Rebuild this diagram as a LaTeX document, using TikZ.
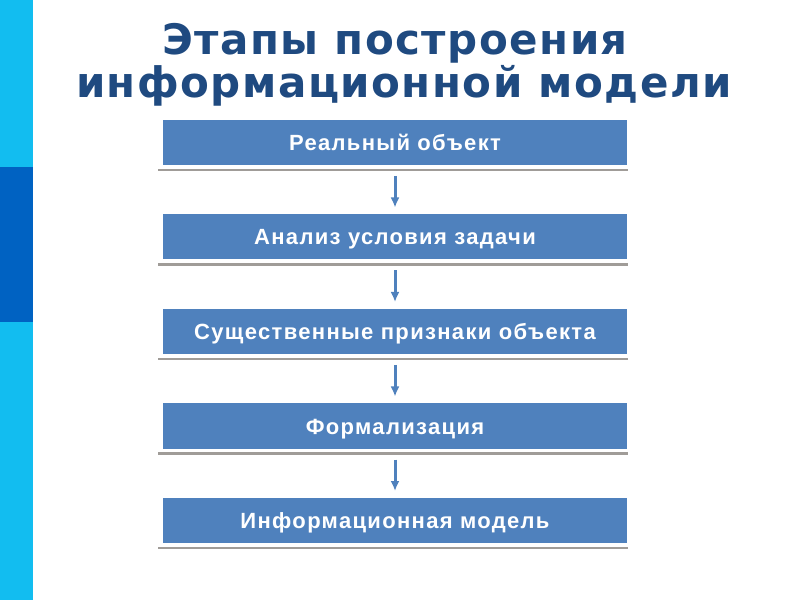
\documentclass[tikz,border=0pt]{standalone}
\usepackage{fontspec}
\setmainfont{Liberation Sans}[LetterSpace=6]
\newfontfamily\titlefont{DejaVu Sans}[LetterSpace=3.5]
\usetikzlibrary{positioning, arrows.meta}

\definecolor{barcyan}{HTML}{12BDF0}
\definecolor{bardark}{HTML}{0062C2}
\definecolor{titleblue}{HTML}{1F4A80}
\definecolor{boxblue}{HTML}{4F81BD}
\definecolor{shadowgray}{HTML}{A09C98}

\tikzset{
  stage/.style={fill=boxblue, draw=white, line width=1pt, minimum width=465pt, minimum height=46pt,
    inner sep=0pt, text height=16pt, text depth=0pt, text=white, font=\bfseries\fontsize{22}{22}\selectfont},
  heading/.style={text=titleblue, font=\titlefont\bfseries\fontsize{42}{42}\selectfont, anchor=base},
  shade/.style={draw=shadowgray, line width=2.5pt},
  flow/.style={draw=boxblue, line width=3pt, -{Latex[length=10pt,width=9pt]}, shorten <=10pt, shorten >=6pt}
}

\begin{document}
\begin{tikzpicture}[x=1pt, y=1pt, node distance=47.5pt]
	\useasboundingbox (0,0) rectangle (800,600);
	% side bar
	\fill[barcyan] (0,0) rectangle (33,600);
	\fill[bardark] (0,278) rectangle (33,433);

	% title
	\node [heading] (head1) at (395,545) {Этапы построения};
	\node [heading] (head2) at (404,502) {информационной модели};

	% stages
	\node [stage] (real)   at (395,457.5)           {Реальный объект};
	\node [stage] (anal)   [below=of real]          {Анализ условия задачи};
	\node [stage] (feat)   [below=of anal]          {Существенные признаки объекта};
	\node [stage] (formal) [below=of feat]          {Формализация};
	\node [stage] (model)  [below=of formal]        {Информационная модель};

	\draw[shade] ([shift={(-4,-4)}]real.south west)   -- ([shift={(0,-4)}]real.south east);
	\draw[shade] ([shift={(-4,-4)}]anal.south west)   -- ([shift={(0,-4)}]anal.south east);
	\draw[shade] ([shift={(-4,-4)}]feat.south west)   -- ([shift={(0,-4)}]feat.south east);
	\draw[shade] ([shift={(-4,-4)}]formal.south west) -- ([shift={(0,-4)}]formal.south east);
	\draw[shade] ([shift={(-4,-4)}]model.south west)  -- ([shift={(0,-4)}]model.south east);

	\path[flow] (real)   -- (anal);
	\path[flow] (anal)   -- (feat);
	\path[flow] (feat)   -- (formal);
	\path[flow] (formal) -- (model);
\end{tikzpicture}
\end{document}
